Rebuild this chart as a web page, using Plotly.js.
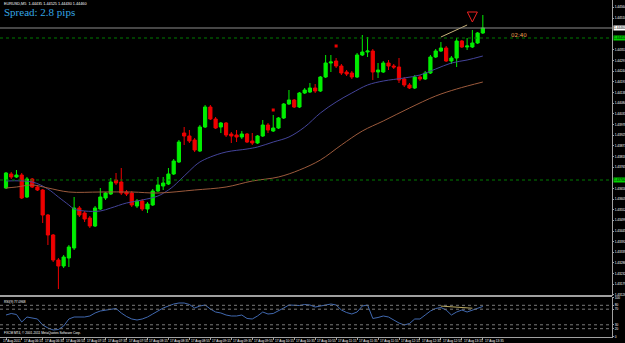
<!DOCTYPE html>
<html><head><meta charset="utf-8">
<script src="https://cdn.plot.ly/plotly-3.0.1.min.js"></script>
<style>html,body{margin:0;padding:0;background:#000;overflow:hidden}#chart{width:625px;height:343px}</style>
</head><body><div id="chart"></div>
<script>
// ---- data (EURUSD M5) ----
const openP  = [1.43660,1.43730,1.43715,1.43725,1.43615,1.43705,1.43665,1.43650,1.43525,1.43425,1.43300,1.43270,1.43310,1.43360,1.43560,1.43535,1.43510,1.43470,1.43555,1.43610,1.43630,1.43700,1.43690,1.43640,1.43635,1.43570,1.43595,1.43555,1.43575,1.43645,1.43670,1.43680,1.43730,1.43790,1.43935,1.43920,1.43900,1.43845,1.43965,1.44065,1.44005,1.43965,1.43985,1.43930,1.43925,1.43915,1.43930,1.43895,1.43885,1.43920,1.43975,1.43945,1.43960,1.44010,1.44080,1.44100,1.44065,1.44135,1.44140,1.44160,1.44145,1.44215,1.44285,1.44295,1.44270,1.44240,1.44235,1.44215,1.44325,1.44340,1.44345,1.44240,1.44240,1.44285,1.44270,1.44265,1.44205,1.44175,1.44160,1.44215,1.44205,1.44235,1.44315,1.44345,1.44360,1.44295,1.44310,1.44395,1.44365,1.44365,1.44385,1.44435];
const highP  = [1.43740,1.43740,1.43750,1.43735,1.43715,1.43710,1.43675,1.43655,1.43530,1.43430,1.43310,1.43325,1.43375,1.43615,1.43570,1.43545,1.43520,1.43570,1.43660,1.43640,1.43710,1.43735,1.43760,1.43650,1.43645,1.43605,1.43605,1.43590,1.43655,1.43715,1.43715,1.43760,1.43805,1.43900,1.43965,1.43950,1.43910,1.43975,1.44075,1.44075,1.44015,1.43990,1.43990,1.43940,1.43950,1.43945,1.43935,1.43935,1.43925,1.44000,1.43985,1.44025,1.44015,1.44085,1.44150,1.44105,1.44140,1.44160,1.44185,1.44180,1.44220,1.44325,1.44325,1.44310,1.44280,1.44250,1.44245,1.44335,1.44425,1.44415,1.44355,1.44285,1.44295,1.44300,1.44280,1.44310,1.44215,1.44185,1.44225,1.44225,1.44245,1.44325,1.44355,1.44390,1.44370,1.44320,1.44410,1.44400,1.44410,1.44450,1.44440,1.44525];
const lowP   = [1.43655,1.43705,1.43710,1.43605,1.43610,1.43660,1.43645,1.43485,1.43375,1.43290,1.43155,1.43260,1.43265,1.43350,1.43515,1.43490,1.43460,1.43465,1.43550,1.43600,1.43625,1.43675,1.43625,1.43620,1.43565,1.43560,1.43545,1.43535,1.43570,1.43640,1.43650,1.43675,1.43725,1.43785,1.43875,1.43885,1.43840,1.43840,1.43960,1.44000,1.43955,1.43935,1.43915,1.43885,1.43890,1.43905,1.43885,1.43875,1.43880,1.43915,1.43935,1.43940,1.43955,1.44005,1.44075,1.44060,1.44060,1.44130,1.44135,1.44135,1.44140,1.44210,1.44240,1.44260,1.44225,1.44220,1.44205,1.44210,1.44320,1.44315,1.44200,1.44210,1.44235,1.44250,1.44255,1.44185,1.44165,1.44155,1.44155,1.44195,1.44200,1.44230,1.44310,1.44340,1.44290,1.44280,1.44265,1.44360,1.44350,1.44360,1.44380,1.44430];
const closeP = [1.43735,1.43715,1.43725,1.43610,1.43705,1.43665,1.43650,1.43525,1.43425,1.43300,1.43270,1.43315,1.43365,1.43560,1.43525,1.43505,1.43470,1.43560,1.43615,1.43635,1.43690,1.43685,1.43635,1.43630,1.43575,1.43595,1.43555,1.43580,1.43645,1.43675,1.43685,1.43730,1.43795,1.43890,1.43920,1.43895,1.43850,1.43965,1.44065,1.44005,1.43960,1.43985,1.43925,1.43920,1.43915,1.43930,1.43890,1.43885,1.43920,1.43975,1.43950,1.43960,1.44010,1.44080,1.44100,1.44065,1.44135,1.44150,1.44160,1.44145,1.44215,1.44285,1.44290,1.44270,1.44235,1.44230,1.44215,1.44325,1.44340,1.44345,1.44240,1.44250,1.44285,1.44270,1.44265,1.44200,1.44175,1.44160,1.44215,1.44205,1.44235,1.44315,1.44345,1.44360,1.44295,1.44310,1.44395,1.44365,1.44370,1.44385,1.44435,1.44460];

const maFastIdx = [0,5,8,10,12,13,15,18,20,23,26,29,31,32,33,34,35,36,37,39,42,46,48,51,54,57,60,63,66,69,72,76,79,82,85,88,91];
const maFastVal = [1.43695,1.43690,1.43655,1.43615,1.43575,1.43555,1.43545,1.43545,1.43560,1.43585,1.43600,1.43620,1.43650,1.43670,1.43695,1.43720,1.43745,1.43770,1.43790,1.43815,1.43840,1.43855,1.43865,1.43890,1.43915,1.43965,1.44035,1.44090,1.44135,1.44175,1.44195,1.44210,1.44225,1.44255,1.44285,1.44300,1.44320];
const maSlowIdx = [0,2,5,8,12,18,24,29,36,42,47,52,56,60,64,68,72,77,82,86,91];
const maSlowVal = [1.43660,1.43665,1.43675,1.43660,1.43640,1.43640,1.43640,1.43635,1.43650,1.43665,1.43695,1.43715,1.43750,1.43800,1.43875,1.43945,1.43995,1.44060,1.44120,1.44155,1.44190];

const rsiVal = [55.1,59.0,56.4,37.2,50.0,47.4,44.9,29.5,21.8,16.7,17.9,26.9,44.9,50.0,50.0,50.0,52.6,60.3,65.4,67.9,70.5,71.8,60.3,51.3,44.9,42.3,44.9,50.0,57.7,65.4,73.1,78.2,83.3,85.9,85.9,82.1,73.1,78.2,80.8,70.5,62.8,60.3,55.1,52.6,52.6,55.1,46.2,44.9,52.6,62.8,57.7,59.0,65.4,73.1,80.8,79.5,79.5,82.1,80.8,75.6,78.2,80.8,83.3,80.8,67.9,61.5,57.7,62.8,78.2,80.8,46.2,48.7,52.6,50.0,42.3,34.6,29.5,33.3,44.9,44.9,55.1,65.4,71.8,74.4,67.9,55.1,62.8,67.9,62.8,67.9,73.1,77.0968];
const rsiLevels = [80,70,30,20];
const rsiTickVals = [100,80,70,30,20,0];
const rsiTickText = ["100","80","70","30","20","0"];

const priceTickVals = [1.44564,1.44510,1.44351,1.44297,1.44244,1.44191,1.44138,1.44084,1.44031,1.43978,1.43925,1.43871,1.43818,1.43765,1.43658,1.43605,1.43552,1.43499,1.43445,1.43392,1.43339,1.43286,1.43232,1.43179,1.43126];

const timeTickIdx = [0,3,7,11,15,19,23,27,31,35,39,43,47,51,55,59,63,67,71,75,79,83,87,91];
const timeTickText = ["17 Aug 2011","17 Aug 06:15","17 Aug 06:35","17 Aug 06:55","17 Aug 07:15","17 Aug 07:35","17 Aug 07:55","17 Aug 08:15","17 Aug 08:35","17 Aug 08:55","17 Aug 09:15","17 Aug 09:35","17 Aug 09:55","17 Aug 10:15","17 Aug 10:35","17 Aug 10:55","17 Aug 11:15","17 Aug 11:35","17 Aug 11:55","17 Aug 12:15","17 Aug 12:35","17 Aug 12:55","17 Aug 13:15","17 Aug 13:35"];

const bidLevel = 1.44460;
const greenLevels = [1.44410, 1.43700];
const signalIdx = [51, 63];
const signalVal = [1.44050, 1.44370];
const arrowIdx = [89];
const arrowVal = [1.44490];
const trendIdx = [83, 88];
const trendVal = [1.44415, 1.44475];
const rsiTrendIdx = [83, 89];
const rsiTrendVal = [78.0, 72.5];
const spreadText = "Spread: 2.8 pips";
const timerText = "02:40";

// ---- build ----
const idx = closeP.map((_, i) => i);
const fmt = v => v.toFixed(5);
const small = {family:'Liberation Sans', size:3.2, color:'#ffffff'};

const traces = [
  {type:'candlestick', x:idx, open:openP, high:highP, low:lowP, close:closeP, xaxis:'x', yaxis:'y',
   increasing:{line:{color:'#00ee00', width:1}, fillcolor:'#00ee00'},
   decreasing:{line:{color:'#ee0000', width:1}, fillcolor:'#ee0000'},
   whiskerwidth:0, hoverinfo:'skip', showlegend:false},
  {type:'scatter', mode:'lines', x:maFastIdx, y:maFastVal, xaxis:'x', yaxis:'y',
   line:{color:'#44449a', width:1, shape:'spline'}, hoverinfo:'skip', showlegend:false},
  {type:'scatter', mode:'lines', x:maSlowIdx, y:maSlowVal, xaxis:'x', yaxis:'y',
   line:{color:'#9c5a3c', width:1, shape:'spline'}, hoverinfo:'skip', showlegend:false},
  {type:'scatter', mode:'lines', x:trendIdx, y:trendVal, xaxis:'x', yaxis:'y',
   line:{color:'#c8b27a', width:1}, hoverinfo:'skip', showlegend:false},
  {type:'scatter', mode:'markers', x:signalIdx, y:signalVal, xaxis:'x', yaxis:'y',
   marker:{symbol:'square', size:3, color:'#ee0000'}, hoverinfo:'skip', showlegend:false},
  {type:'scatter', mode:'markers', x:arrowIdx, y:arrowVal, xaxis:'x', yaxis:'y',
   marker:{symbol:'arrow-down-open', size:10, color:'#ee2020', line:{color:'#ee2020', width:1}}, hoverinfo:'skip', showlegend:false},
  {type:'scatter', mode:'lines', x:idx, y:rsiVal, xaxis:'x', yaxis:'y2',
   line:{color:'#4169b0', width:1}, hoverinfo:'skip', showlegend:false},
  {type:'scatter', mode:'lines', x:rsiTrendIdx, y:rsiTrendVal, xaxis:'x', yaxis:'y2',
   line:{color:'#b8a860', width:1}, hoverinfo:'skip', showlegend:false}
];

const H = 337; // plot area height in px
const mainBottom = (H - 296) / H;
const subTop = (H - 297) / H;

const shapes = [];
shapes.push({type:'line', xref:'paper', x0:0, x1:1, yref:'y', y0:bidLevel, y1:bidLevel, line:{color:'#8c8c8c', width:1}});
greenLevels.forEach(v => shapes.push({type:'line', xref:'paper', x0:0, x1:1, yref:'y', y0:v, y1:v, line:{color:'#007a00', width:1, dash:'dot'}}));
rsiLevels.forEach(v => shapes.push({type:'line', xref:'paper', x0:0, x1:1, yref:'y2', y0:v, y1:v, line:{color:'#7a7a7a', width:1, dash:'dot'}}));
shapes.push({type:'line', xref:'paper', x0:0, x1:1, yref:'paper', y0:mainBottom, y1:mainBottom, line:{color:'#a0a0a0', width:2}});

const last = closeP.length - 1;
const annotations = [
  {xref:'paper', yref:'paper', x:0.003, y:1, xanchor:'left', yanchor:'top', yshift:0, showarrow:false,
   text:'EURUSD,M5  ' + [openP[last],highP[last],lowP[last],closeP[last]].map(fmt).join(' '),
   font:{family:'Liberation Sans', size:3.8, color:'#ffffff'}},
  {xref:'paper', yref:'paper', x:0.004, y:1, xanchor:'left', yanchor:'top', yshift:-4, showarrow:false,
   text:spreadText, font:{family:'"Liberation Serif", "DejaVu Serif", serif', size:11, color:'#35a6e4'}},
  {xref:'paper', yref:'y', x:0.832, y:greenLevels[0], xanchor:'left', yanchor:'middle', yshift:3, showarrow:false,
   text:timerText, font:{family:'DejaVu Sans', size:5.5, color:'#f0a050'}},
  {xref:'paper', yref:'paper', x:0.003, y:subTop, xanchor:'left', yanchor:'top', yshift:-1, showarrow:false,
   text:'RSI(9) ' + rsiVal[last].toFixed(4), font:small},
  {xref:'paper', yref:'paper', x:0.003, y:0, xanchor:'left', yanchor:'bottom', yshift:0, showarrow:false,
   text:'FXCM MT4, \u00a9 2001-2011 MetaQuotes Software Corp.', font:small},
  {xref:'paper', yref:'y', x:1, y:bidLevel, xanchor:'left', yanchor:'middle', xshift:1, showarrow:false,
   text:fmt(bidLevel), bgcolor:'#ffffff', font:{family:'Liberation Sans', size:3.2, color:'#000000'}, borderpad:0},
  {xref:'paper', yref:'y', x:1, y:greenLevels[0], xanchor:'left', yanchor:'middle', xshift:1, showarrow:false,
   text:fmt(greenLevels[0]), bgcolor:'#00d000', font:{family:'Liberation Sans', size:3.2, color:'#000000'}, borderpad:0},
  {xref:'paper', yref:'y', x:1, y:greenLevels[1], xanchor:'left', yanchor:'middle', xshift:1, showarrow:false,
   text:fmt(greenLevels[1]), bgcolor:'#00d000', font:{family:'Liberation Sans', size:3.2, color:'#000000'}, borderpad:0}
];
timeTickIdx.forEach((t, k) => annotations.push({
  xref:'x', yref:'paper', x:t, y:0, xanchor:'left', yanchor:'top', xshift:(k === 0 ? -5 : 0), yshift:0, showarrow:false,
  text:timeTickText[k], font:small}));

const layout = {
  width:625, height:343,
  margin:{l:0, r:13, t:0, b:6, pad:0},
  paper_bgcolor:'#000000', plot_bgcolor:'#000000',
  showlegend:false, boxgap:0.22, boxgroupgap:0.22,
  xaxis:{range:[-1.145, 115.65], anchor:'y2', showgrid:false, zeroline:false,
    tickmode:'array', tickvals:timeTickIdx, showticklabels:false,
    ticks:'outside', ticklen:2, tickcolor:'#a0a0a0',
    showline:true, linecolor:'#a0a0a0', linewidth:1, rangeslider:{visible:false}, fixedrange:true},
  yaxis:{domain:[mainBottom, 1], range:[1.4312, 1.4460], side:'right', showgrid:false, zeroline:false,
    tickmode:'array', tickvals:priceTickVals, ticktext:priceTickVals.map(fmt),
    ticks:'outside', ticklen:1, tickcolor:'#a0a0a0',
    tickfont:{family:'Liberation Sans', size:3.2, color:'#ffffff'},
    showline:true, linecolor:'#a0a0a0', linewidth:1, fixedrange:true},
  yaxis2:{domain:[0, subTop], range:[-1.3, 101.3], side:'right', showgrid:false, zeroline:false,
    tickmode:'array', tickvals:rsiTickVals, ticktext:rsiTickText,
    ticks:'outside', ticklen:1, tickcolor:'#a0a0a0',
    tickfont:{family:'Liberation Sans', size:3.2, color:'#ffffff'},
    showline:true, linecolor:'#a0a0a0', linewidth:1, fixedrange:true},
  shapes:shapes, annotations:annotations
};

Plotly.newPlot('chart', traces, layout, {staticPlot:true, displayModeBar:false});
</script>
</body></html>
